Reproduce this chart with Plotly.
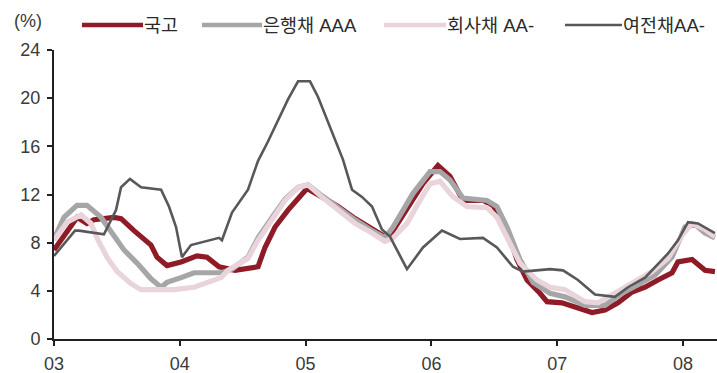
import plotly.graph_objects as go

# Series labels and axis tick labels
series_names = ["국고", "은행채 AAA", "회사채 AA-", "여전채AA-"]
tick_years = [2003, 2004, 2005, 2006, 2007, 2008]
tick_labels = ["03", "04", "05", "06", "07", "08"]
y_ticks = [0, 4, 8, 12, 16, 20, 24]

# 국고 (decimal year, %)
gov_t = [2003.000, 2003.079, 2003.183, 2003.262, 2003.318, 2003.477, 2003.533, 2003.636,
         2003.771, 2003.819, 2003.898, 2004.010, 2004.137, 2004.216, 2004.312, 2004.439,
         2004.622, 2004.677, 2004.757, 2004.860, 2004.971, 2005.011, 2005.130, 2005.258,
         2005.393, 2005.528, 2005.631, 2005.671, 2005.790, 2005.933, 2006.052, 2006.148,
         2006.251, 2006.410, 2006.490, 2006.601, 2006.680, 2006.760, 2006.863, 2006.919,
         2007.038, 2007.165, 2007.277, 2007.380, 2007.483, 2007.595, 2007.698, 2007.801,
         2007.913, 2007.960, 2008.072, 2008.175, 2008.254]
gov_v = [7.4, 8.5, 10.1, 9.6, 9.9, 10.1, 10.0, 9.0,
         7.8, 6.8, 6.1, 6.4, 6.9, 6.8, 6.0, 5.7,
         6.0, 7.6, 9.3, 10.7, 12.1, 12.5, 11.8, 11.0,
         10.0, 9.1, 8.5, 8.6, 10.5, 12.9, 14.4, 13.5,
         11.5, 11.5, 11.1, 9.1, 6.6, 4.9, 3.8, 3.1,
         3.0, 2.6, 2.2, 2.4, 3.0, 3.9, 4.3, 4.9,
         5.5, 6.4, 6.6, 5.7, 5.6]

# 은행채 AAA
bank_t = [2003.000, 2003.079, 2003.183, 2003.262, 2003.374, 2003.453, 2003.556, 2003.660,
          2003.771, 2003.851, 2003.898, 2004.010, 2004.113, 2004.328, 2004.415, 2004.542,
          2004.622, 2004.733, 2004.836, 2004.940, 2005.019, 2005.130, 2005.258, 2005.393,
          2005.528, 2005.631, 2005.695, 2005.854, 2005.989, 2006.068, 2006.148, 2006.251,
          2006.442, 2006.521, 2006.601, 2006.704, 2006.808, 2006.943, 2007.062, 2007.221,
          2007.380, 2007.515, 2007.642, 2007.777, 2007.913, 2008.016, 2008.095, 2008.175,
          2008.254]
bank_v = [8.3, 10.1, 11.1, 11.1, 10.1, 8.9, 7.4, 6.3,
          5.0, 4.3, 4.7, 5.1, 5.5, 5.5, 5.8, 6.8,
          8.4, 10.1, 11.6, 12.6, 12.8, 11.9, 10.9, 9.9,
          9.0, 8.4, 9.3, 12.1, 13.9, 13.9, 13.2, 11.7,
          11.5, 11.0, 9.3, 6.6, 4.7, 3.8, 3.5, 2.8,
          2.8, 3.8, 4.5, 5.3, 6.8, 9.3, 9.5, 8.8,
          8.4]

# 회사채 AA-
corp_t = [2003.000, 2003.103, 2003.215, 2003.294, 2003.342, 2003.421, 2003.501, 2003.612,
          2003.692, 2003.795, 2003.954, 2004.113, 2004.328, 2004.383, 2004.542, 2004.622,
          2004.733, 2004.836, 2004.940, 2005.019, 2005.130, 2005.258, 2005.393, 2005.528,
          2005.631, 2005.695, 2005.806, 2005.909, 2005.989, 2006.068, 2006.172, 2006.283,
          2006.442, 2006.521, 2006.601, 2006.704, 2006.839, 2006.943, 2007.062, 2007.221,
          2007.324, 2007.459, 2007.595, 2007.754, 2007.881, 2007.992, 2008.072, 2008.175,
          2008.254]
corp_v = [8.2, 9.7, 10.3, 9.6, 8.4, 6.8, 5.6, 4.6,
          4.1, 4.1, 4.1, 4.3, 5.1, 5.7, 6.7, 8.2,
          9.9, 11.5, 12.6, 12.8, 11.8, 10.7, 9.6, 8.8,
          8.1, 8.4, 9.6, 11.5, 12.9, 13.1, 11.8, 11.0,
          10.9, 10.1, 8.5, 6.3, 4.9, 4.3, 4.1, 3.1,
          3.0, 3.8, 4.7, 5.6, 6.7, 8.6, 9.6, 9.1,
          8.5]

# 여전채AA-
card_t = [2003.000, 2003.167, 2003.199, 2003.397, 2003.493, 2003.533, 2003.604, 2003.692,
          2003.851, 2003.914, 2003.970, 2003.994, 2004.017, 2004.089, 2004.169, 2004.312,
          2004.335, 2004.415, 2004.542, 2004.622, 2004.701, 2004.781, 2004.860, 2004.940,
          2005.035, 2005.099, 2005.170, 2005.234, 2005.297, 2005.369, 2005.448, 2005.528,
          2005.607, 2005.671, 2005.806, 2005.933, 2006.084, 2006.227, 2006.410, 2006.521,
          2006.649, 2006.728, 2006.943, 2007.046, 2007.165, 2007.300, 2007.459, 2007.563,
          2007.698, 2007.881, 2007.960, 2008.040, 2008.119, 2008.254]
card_v = [6.9, 9.0, 9.0, 8.7, 10.7, 12.6, 13.3, 12.6,
          12.4, 11.0, 9.3, 8.0, 6.8, 7.8, 8.0, 8.4,
          8.2, 10.5, 12.4, 14.8, 16.4, 18.2, 19.9, 21.4,
          21.4, 20.1, 18.2, 16.5, 14.9, 12.4, 11.8, 11.0,
          9.1, 8.5, 5.8, 7.6, 9.0, 8.3, 8.4, 7.6,
          6.0, 5.6, 5.8, 5.7, 4.9, 3.7, 3.5, 4.3,
          5.1, 7.1, 8.2, 9.7, 9.6, 8.8]

colors = ["#8E1B26", "#A6A6A9", "#E8D4DA", "#58585B"]
widths = [5.2, 5.2, 5.2, 2.6]
legend_widths = [4.5, 4.5, 4.5, 2.6]
series = [(gov_t, gov_v), (bank_t, bank_v), (corp_t, corp_v), (card_t, card_v)]

fig = go.Figure()
for (t, v), name, c, w in zip(series, series_names, colors, widths):
    fig.add_trace(go.Scatter(x=t, y=v, mode="lines", name=name,
                             line=dict(color=c, width=w), showlegend=False))

# Plot area in pixels: left 54, right 717, top 50, bottom 339
L, R, T, B = 54, 717, 50, 339
def px(xp):
    return (xp - L) / (R - L)
def py(yp):
    return (B - yp) / (B - T)

font_lbl = dict(family="Liberation Sans, Arial, sans-serif", size=18, color="#3a3a3a")
font_kr = dict(family="Liberation Sans, Noto Sans CJK KR, sans-serif", size=18.5, color="#2a2a2a")

# Legend drawn across the top
legend_items = [(82, 143), (202, 262), (384, 446), (565, 622)]
for (x0, x1), name, c, w in zip(legend_items, series_names, colors, legend_widths):
    fig.add_shape(type="line", xref="paper", yref="paper",
                  x0=px(x0), x1=px(x1), y0=py(25), y1=py(25),
                  line=dict(color=c, width=w))
    fig.add_annotation(xref="paper", yref="paper", x=px(x1 + 1), y=py(25),
                       text=name, showarrow=False, xanchor="left", yanchor="middle",
                       font=font_kr, xshift=-2)

fig.add_annotation(xref="paper", yref="paper", x=px(12), y=py(21),
                   text="(%)", showarrow=False, xanchor="left", yanchor="middle",
                   font=font_lbl)

axis_col = "#231F20"
fig.update_xaxes(range=[2003, 2003 + (R - L) / 125.8], tickvals=tick_years, ticktext=tick_labels,
                 showline=True, linecolor=axis_col, linewidth=2, ticks="outside",
                 ticklen=5, tickwidth=2, tickcolor=axis_col, showgrid=False, zeroline=False,
                 tickfont=font_lbl, ticklabelstandoff=2)
fig.update_yaxes(range=[0, 24], tickvals=y_ticks, showline=True, linecolor=axis_col,
                 linewidth=2, ticks="outside", ticklen=5, tickwidth=2, tickcolor=axis_col,
                 showgrid=False, zeroline=False, tickfont=font_lbl, ticklabelstandoff=3)

fig.update_layout(width=717, height=373, margin=dict(l=L, r=717 - R, t=T, b=373 - B),
                  paper_bgcolor="white", plot_bgcolor="white")

fig.write_html("out.html")
